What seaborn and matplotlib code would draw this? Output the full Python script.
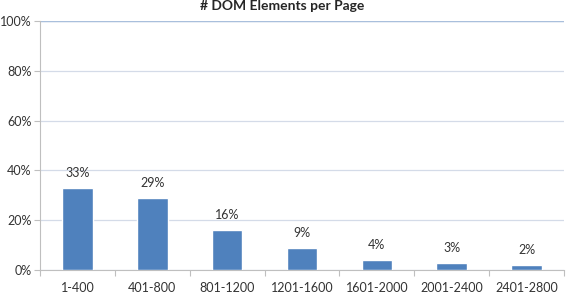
import seaborn as sns
import matplotlib.pyplot as plt
import pandas as pd
from matplotlib.ticker import PercentFormatter

rangos = ['1-400', '401-800', '801-1200', '1201-1600', '1601-2000', '2001-2400', '2401-2800']
porcentajes = [33, 29, 16, 9, 4, 3, 2]

df = pd.DataFrame({'Rango': rangos, 'Porcentaje': porcentajes})

sns.set_style('white')
plt.rcParams['font.family'] = ['Lato', 'DejaVu Sans']

fig = plt.figure(figsize=(5.68, 2.94), dpi=100)
ax = fig.add_axes([40 / 568, (294 - 270) / 294, (564 - 40) / 568, (270 - 21) / 294])

sns.barplot(data=df, x='Rango', y='Porcentaje', color='#4f81bd', width=0.41,
            saturation=1, ax=ax, zorder=3)

# etiquetas encima de cada barra
for i, v in enumerate(porcentajes):
    ax.text(i, v + 3.5, f'{v}%', ha='center', va='bottom', fontsize=9, color='#333333')

ax.set_ylim(0, 100)
ax.set_yticks(range(0, 101, 20))
ax.yaxis.set_major_formatter(PercentFormatter(decimals=0))
ax.set_xlim(-0.5, len(rangos) - 0.5)
ax.set_xlabel('')
ax.set_ylabel('')

ax.grid(axis='y', color='#d4dbe8', linewidth=0.9, zorder=0)
ax.axhline(100, color='#a9bfdc', linewidth=1, zorder=1)

for s in ['top', 'right']:
    ax.spines[s].set_visible(False)
ax.spines['left'].set_color('#bfbfbf')
ax.spines['bottom'].set_color('#bfbfbf')

ax.tick_params(axis='y', labelsize=9, colors='#333333', length=4, width=0.8, direction='out',
               left=True, color='#bfbfbf', pad=2)
ax.tick_params(axis='x', labelsize=9, colors='#333333', bottom=False, pad=5)
ax.set_xticks(range(len(rangos)), minor=False)
ax.set_xticks([i + 0.5 for i in range(-1, len(rangos))], minor=True)
ax.tick_params(axis='x', which='minor', bottom=True, length=4, width=0.8, color='#bfbfbf')

fig.text(282 / 568, 1 - 10 / 294, '# DOM Elements per Page', ha='center', va='baseline',
         fontsize=10, fontweight='bold', color='#262626')

fig.savefig('out.png', dpi=100)
